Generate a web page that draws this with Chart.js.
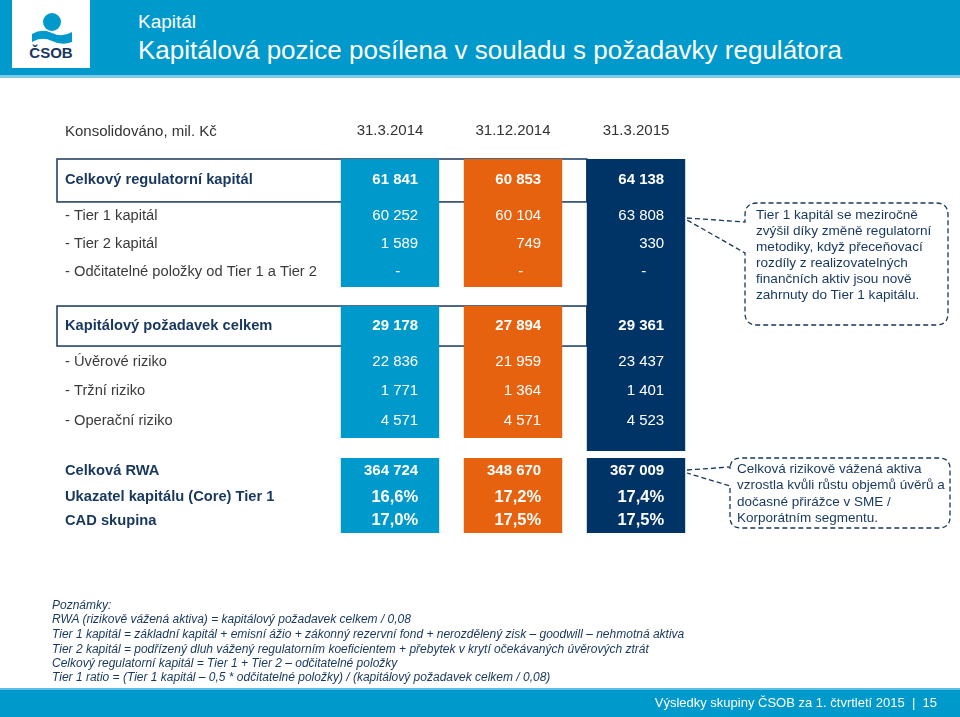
<!DOCTYPE html>
<html>
<head>
<meta charset="utf-8">
<script src="https://cdn.jsdelivr.net/npm/chart.js@4.4.1/dist/chart.umd.min.js"></script>
<style>
  html, body { margin: 0; padding: 0; background: #fff; }
  body { width: 960px; height: 717px; position: relative; overflow: hidden; font-family: "Liberation Sans", Arial, sans-serif; }
  #chart { position: absolute; left: 0; top: 0; }
  .abs { position: absolute; white-space: nowrap; }
  #header { left: 0; top: 0; width: 960px; height: 75px; background: #0099cc; border-bottom: 3px solid #7fcbe6; }
  #logo { left: 12px; top: 0; width: 78px; height: 68px; background: #fff; }
  #kicker { left: 138px; top: 11px; font-size: 19px; color: #fff; }
  #title { left: 138px; top: 35px; font-size: 26px; color: #fff; }
  #unit { left: 65px; top: 122px; font-size: 15px; color: #333; }
  .note { left: 52px; font-size: 12px; font-style: italic; color: #17375e; }
  .callout { font-size: 13.6px; color: #17375e; line-height: 16px; }
  #footer { left: 0; top: 688px; width: 960px; height: 29px; background: #0099cc; border-top: 2px solid #5cbde0; box-sizing: border-box; }
  #footText { right: 23px; top: 695px; font-size: 13px; color: #fff; }
  svg.overlay { position: absolute; left: 0; top: 0; pointer-events: none; }
</style>
</head>
<body>
<canvas id="chart" width="960" height="717"></canvas>

<div id="header" class="abs"></div>
<div id="logo" class="abs">
  <svg width="78" height="68">
    <circle cx="40" cy="22" r="9" fill="#0099cc"/>
    <path d="M20 34 Q30 28 40 33 Q50 38 60 32 L60 42 Q50 46 40 41 Q30 36 20 42 Z" fill="#0099cc"/>
    <text x="39" y="58" text-anchor="middle" font-family="Liberation Sans" font-weight="bold" font-size="15" fill="#17375e">ČSOB</text>
  </svg>
</div>
<div id="kicker" class="abs">Kapitál</div>
<div id="title" class="abs">Kapitálová pozice posílena v souladu s požadavky regulátora</div>
<div id="unit" class="abs">Konsolidováno, mil. Kč</div>

<svg class="overlay" width="960" height="717">
  <g fill="none" stroke="#17375e" stroke-width="1.3" stroke-dasharray="5 3">
    <path d="M687 218 L745 222 L745 215 Q745 203 757 203 L936 203 Q948 203 948 215 L948 313 Q948 325 936 325 L757 325 Q745 325 745 313 L745 253 L687 220"/>
    <path d="M687 470 L730 467 L730 469 Q730 458 741 458 L939 458 Q950 458 950 469 L950 517 Q950 528 939 528 L741 528 Q730 528 730 517 L730 486 L687 473"/>
  </g>
</svg>

<div class="abs callout" style="left:756px; top:207px;">Tier 1 kapitál se meziročně<br>zvýšil díky změně regulatorní<br>metodiky, když přeceňovací<br>rozdíly z realizovatelných<br>finančních aktiv jsou nově<br>zahrnuty do Tier 1 kapitálu.</div>
<div class="abs callout" style="left:737px; top:461px; line-height:16.3px; font-size:13.5px;">Celková rizikově vážená aktiva<br>vzrostla kvůli růstu objemů úvěrů a<br>dočasné přirážce v SME /<br>Korporátním segmentu.</div>

<div class="abs note" style="top:598px;">Poznámky:</div>
<div class="abs note" style="top:612px;">RWA (rizikově vážená aktiva) = kapitálový požadavek celkem / 0,08</div>
<div class="abs note" style="top:627px;">Tier 1 kapitál = základní kapitál + emisní ážio + zákonný rezervní fond + nerozdělený zisk – goodwill – nehmotná aktiva</div>
<div class="abs note" style="top:642px;">Tier 2 kapitál = podřízený dluh vážený regulatorním koeficientem + přebytek v krytí očekávaných úvěrových ztrát</div>
<div class="abs note" style="top:656px;">Celkový regulatorní kapitál = Tier 1 + Tier 2 – odčitatelné položky</div>
<div class="abs note" style="top:670px;">Tier 1 ratio = (Tier 1 kapitál – 0,5 * odčitatelné položky) / (kapitálový požadavek celkem / 0,08)</div>

<div id="footer" class="abs"></div>
<div id="footText" class="abs">Výsledky skupiny ČSOB za 1. čtvrtletí 2015 &nbsp;|&nbsp; 15</div>

<script>
// data (mil. Kč)
const categories = ['31.3.2014', '31.12.2014', '31.3.2015'];
const celkovyKapital = [61841, 60853, 64138];
const tier1 = [60252, 60104, 63808];
const tier2 = [1589, 749, 330];
const odcitatelne = [null, null, null];
const kapPozadavek = [29178, 27894, 29361];
const uverove = [22836, 21959, 23437];
const trzni = [1771, 1364, 1401];
const operacni = [4571, 4571, 4523];
const rwa = [364724, 348670, 367009];
const coreTier1 = [16.6, 17.2, 17.4];
const cadSkupina = [17.0, 17.5, 17.5];

const rowLabels = [
  'Celkový regulatorní kapitál', '- Tier 1 kapitál', '- Tier 2 kapitál',
  '- Odčitatelné položky od Tier 1 a Tier 2',
  'Kapitálový požadavek celkem', '- Úvěrové riziko', '- Tržní riziko', '- Operační riziko',
  'Celková RWA', 'Ukazatel kapitálu (Core) Tier 1', 'CAD skupina'
];
const rowValues = [celkovyKapital, tier1, tier2, odcitatelne, kapPozadavek, uverove, trzni, operacni, rwa, coreTier1, cadSkupina];

// layout (row units on the y scale, 0 = top of the table)
const rowPos = [0.72, 1.97, 2.93, 3.9, 5.76, 7.0, 8.0, 9.03, 10.76, 11.66, 12.48];
const rowKind = ['head', 'sub', 'sub', 'sub', 'head', 'sub', 'sub', 'sub', 'bold', 'pct', 'pct'];
const colColors = ['#0099cc', '#e6620e', '#003366'];
const block1 = [0, 4.41], block2 = [5.07, 9.62], block3 = [10.31, 12.9], navyBlock = [0, 10.07];
const headBoxes = [[0, 1.48], [5.07, 6.45]];

function fmt(v, kind) {
  if (v === null) return '-';
  if (kind === 'pct') return v.toFixed(1).replace('.', ',') + '%';
  return String(v).replace(/\B(?=(\d{3})+(?!\d))/g, ' ');
}

const tablePlugin = {
  id: 'tableText',
  beforeDatasetsDraw(chart) {
    const ctx = chart.ctx, y = chart.scales.y;
    const navy = chart.getDatasetMeta(0).data[2];
    ctx.save();
    ctx.strokeStyle = '#17375e';
    ctx.lineWidth = 1.5;
    headBoxes.forEach(b => {
      const t = y.getPixelForValue(b[0]), bt = y.getPixelForValue(b[1]);
      ctx.strokeRect(57, t, navy.x - navy.width / 2 - 57, bt - t);
    });
    ctx.restore();
  },
  afterDatasetsDraw(chart) {
    const ctx = chart.ctx, x = chart.scales.x, y = chart.scales.y;
    const bars = chart.getDatasetMeta(0).data;
    ctx.save();
    ctx.textBaseline = 'middle';
    // column headers
    ctx.font = '15px "Liberation Sans"';
    ctx.fillStyle = '#333';
    ctx.textAlign = 'center';
    categories.forEach((c, i) => ctx.fillText(c, x.getPixelForValue(i), 131));
    rowLabels.forEach((lab, r) => {
      const py = y.getPixelForValue(rowPos[r]);
      const kind = rowKind[r];
      const bold = kind !== 'sub';
      ctx.textAlign = 'left';
      ctx.font = (bold ? 'bold ' : '') + '14.7px "Liberation Sans"';
      ctx.fillStyle = bold ? '#17375e' : '#3a3a3a';
      ctx.fillText(lab, 65, py);
      ctx.fillStyle = '#fff';
      ctx.textAlign = 'right';
      ctx.font = (bold ? 'bold ' : '') + (kind === 'pct' ? '16.5px' : '15px') + ' "Liberation Sans"';
      rowValues[r].forEach((v, i) => {
        const right = bars[i].x + bars[i].width / 2 - 21;
        ctx.fillText(fmt(v, kind), v === null ? right - 18 : right, py);
      });
    });
    ctx.restore();
  }
};

const ctx = document.getElementById('chart').getContext('2d');
new Chart(ctx, {
  type: 'bar',
  data: {
    labels: categories,
    datasets: [
      { data: categories.map((c, i) => i === 2 ? navyBlock : block1), backgroundColor: colColors },
      { data: categories.map((c, i) => i === 2 ? null : block2), backgroundColor: colColors },
      { data: categories.map(() => block3), backgroundColor: colColors }
    ]
  },
  options: {
    responsive: false,
    animation: false,
    devicePixelRatio: 1,
    layout: { padding: { left: 328.5, right: 262.5, top: 159, bottom: 181 } },
    datasets: { bar: { grouped: false, categoryPercentage: 1, barPercentage: 0.8, borderWidth: 0 } },
    scales: {
      x: { display: false },
      y: { display: false, reverse: true, min: 0, max: 13 }
    },
    plugins: { legend: { display: false }, tooltip: { enabled: false } }
  },
  plugins: [tablePlugin]
});
</script>
</body>
</html>
